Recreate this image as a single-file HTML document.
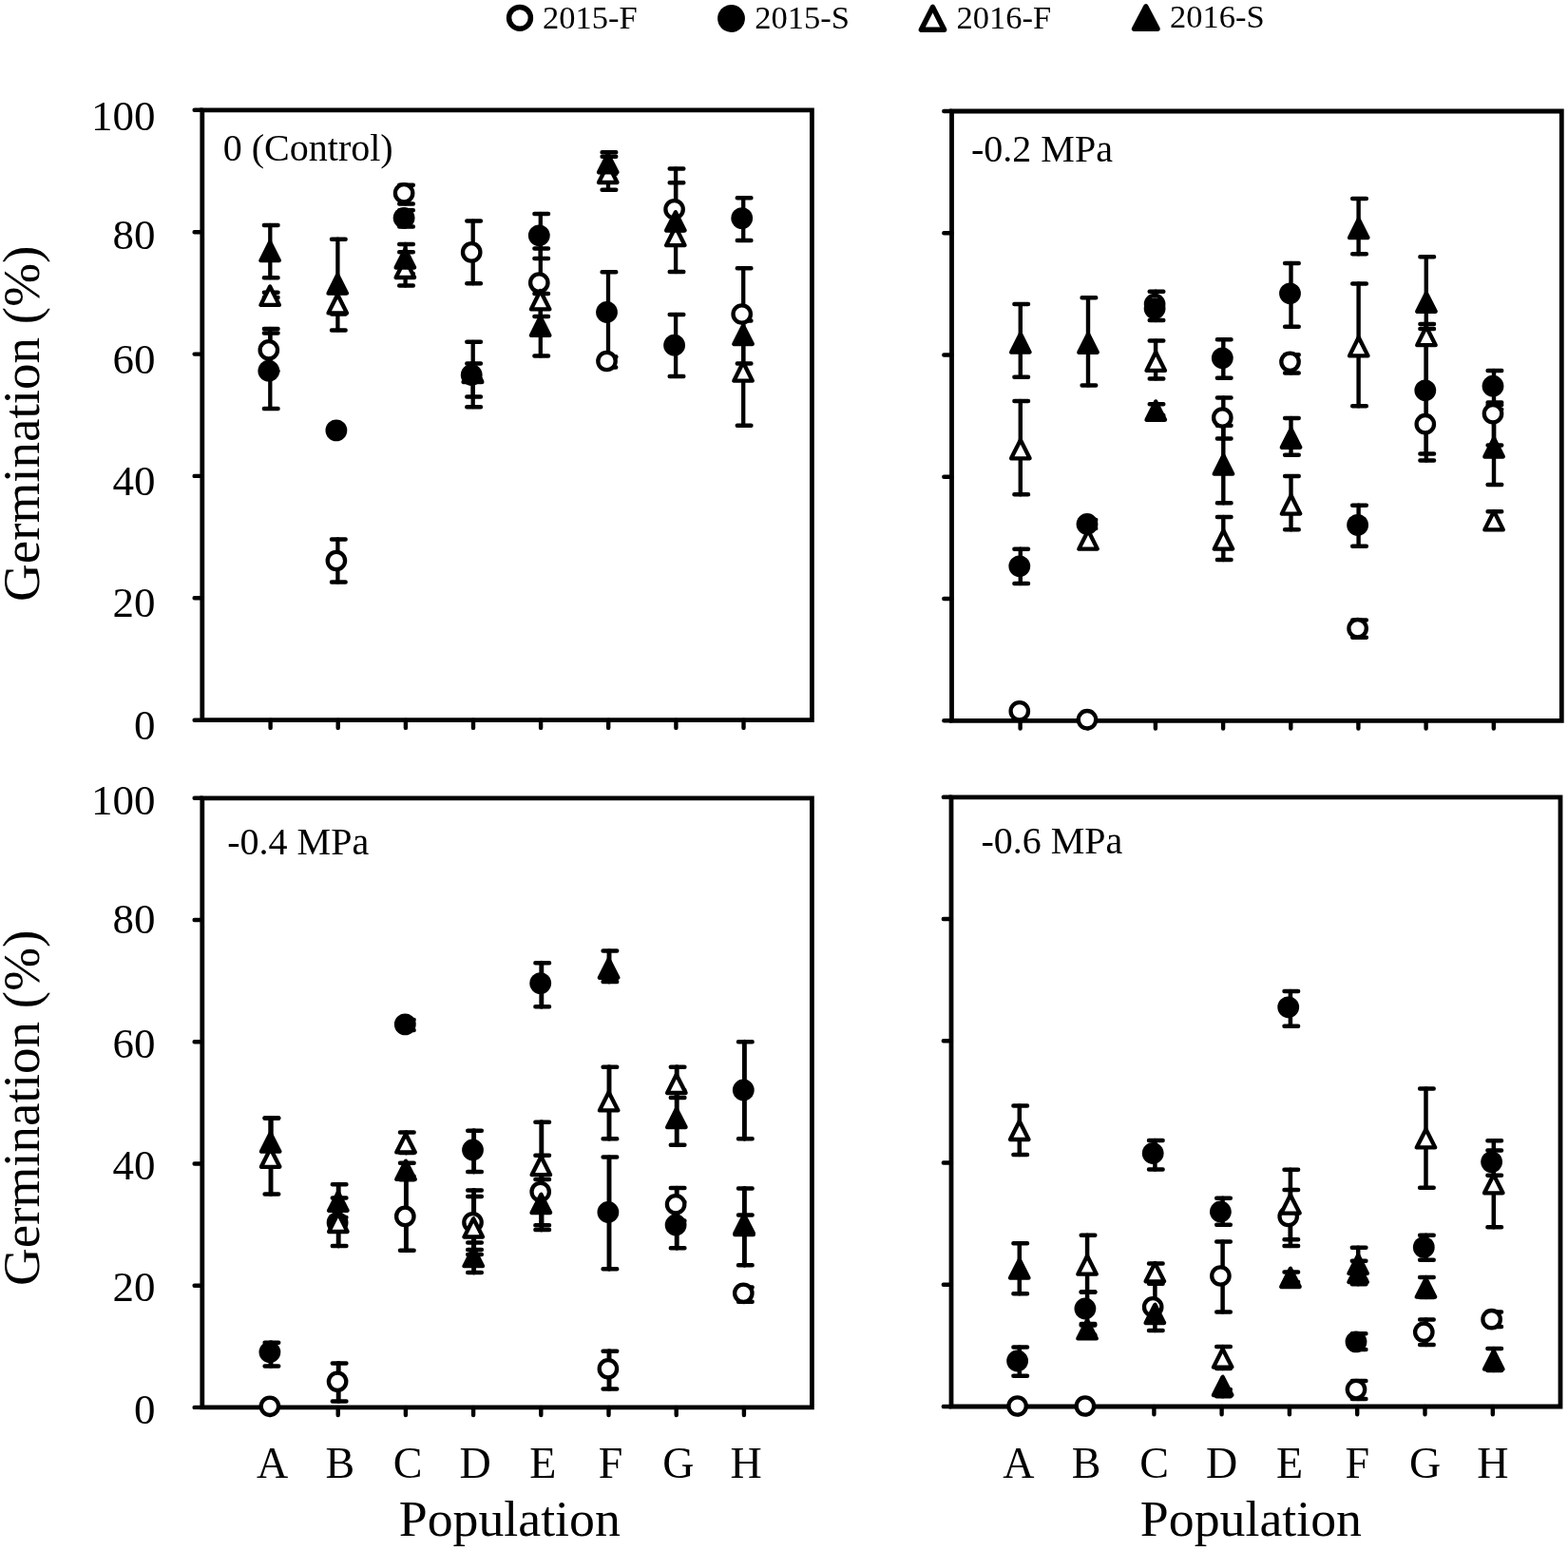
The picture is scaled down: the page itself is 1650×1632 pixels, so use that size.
<!DOCTYPE html>
<html lang="en"><head><meta charset="utf-8"><title>Germination by population</title>
<style>html,body{margin:0;padding:0;background:#fff}body{width:1650px;height:1632px;overflow:hidden}svg{display:block}text{font-family:'Liberation Serif', serif;fill:#000}</style>
</head><body>
<svg width="1650" height="1632" viewBox="0 0 1650 1632">
<rect width="1650" height="1632" fill="#fff"/>
<g id="legend" font-size="34.5">
<circle cx="547.0" cy="18.8" r="11.4" fill="#fff" stroke="#000" stroke-width="5.5"/>
<text x="571.0" y="30.3">2015-F</text>
<circle cx="769.5" cy="19.5" r="14.4" fill="#000"/>
<text x="794.2" y="30.3">2015-S</text>
<path d="M969.4 31.2L993.6 31.2L981.5 7.4Z" fill="#fff" stroke="#000" stroke-width="5.5" stroke-linejoin="round"/>
<text x="1006.4" y="29.8">2016-F</text>
<path d="M1193.6 30.2L1218.0 30.2L1205.8 7.0Z" fill="#000" stroke="#000" stroke-width="5.5" stroke-linejoin="round"/>
<text x="1231.0" y="28.8">2016-S</text>
</g>
<g id="panel1">
<g fill="none" stroke="#000" stroke-width="4.5" stroke-linecap="round"><path stroke-width="4.3" d="M284.3 346.0V390.6"/><path d="M277.9 346.0h14.6M277.9 390.6h14.6"/><path stroke-width="4.3" d="M284.3 350.5V429.9"/><path d="M277.9 350.5h14.6M277.9 429.9h14.6"/><path stroke-width="4.3" d="M284.3 237.0V292.2"/><path d="M277.9 237.0h14.6M277.9 292.2h14.6"/><path stroke-width="4.3" d="M284.3 307.8V313.1"/><path d="M277.9 307.8h14.6M277.9 313.1h14.6"/><path stroke-width="4.3" d="M355.4 567.4V612.5"/><path d="M349.0 567.4h14.6M349.0 612.5h14.6"/><path stroke-width="4.3" d="M355.4 251.7V347.4"/><path d="M349.0 251.7h14.6M349.0 347.4h14.6"/><path stroke-width="4.3" d="M355.4 308.0V330.5"/><path d="M349.0 308.0h14.6M349.0 330.5h14.6"/><path stroke-width="4.3" d="M426.6 194.8V214.4"/><path d="M420.2 194.8h14.6M420.2 214.4h14.6"/><path stroke-width="4.3" d="M426.6 221.3V238.4"/><path d="M420.2 221.3h14.6M420.2 238.4h14.6"/><path stroke-width="4.3" d="M426.6 256.9V287.9"/><path d="M420.2 256.9h14.6M420.2 287.9h14.6"/><path stroke-width="4.3" d="M426.6 265.2V300.6"/><path d="M420.2 265.2h14.6M420.2 300.6h14.6"/><path stroke-width="4.3" d="M497.7 232.6V298.3"/><path d="M491.3 232.6h14.6M491.3 298.3h14.6"/><path stroke-width="4.3" d="M497.7 359.8V428.2"/><path d="M491.3 359.8h14.6M491.3 428.2h14.6"/><path stroke-width="4.3" d="M497.7 382.6V417.5"/><path d="M491.3 382.6h14.6M491.3 417.5h14.6"/><path stroke-width="4.3" d="M568.8 225.0V271.9"/><path d="M562.4 225.0h14.6M562.4 271.9h14.6"/><path stroke-width="4.3" d="M568.8 261.4V333.1"/><path d="M562.4 261.4h14.6M562.4 333.1h14.6"/><path stroke-width="4.3" d="M568.8 309.0V374.5"/><path d="M562.4 309.0h14.6M562.4 374.5h14.6"/><path stroke-width="4.3" d="M640.0 160.2V182.8"/><path d="M633.6 160.2h14.6M633.6 182.8h14.6"/><path stroke-width="4.3" d="M640.0 164.8V199.8"/><path d="M633.6 164.8h14.6M633.6 199.8h14.6"/><path stroke-width="4.3" d="M640.0 286.2V375.4"/><path d="M633.6 286.2h14.6M633.6 375.4h14.6"/><path stroke-width="4.3" d="M640.0 375.4V386.4"/><path d="M633.6 375.4h14.6M633.6 386.4h14.6"/><path stroke-width="4.3" d="M711.1 177.5V286.0"/><path d="M704.7 177.5h14.6M704.7 286.0h14.6"/><path stroke-width="4.3" d="M711.1 192.2V242.3"/><path d="M704.7 192.2h14.6M704.7 242.3h14.6"/><path stroke-width="4.3" d="M711.1 331.0V396.0"/><path d="M704.7 331.0h14.6M704.7 396.0h14.6"/><path stroke-width="4.3" d="M782.2 208.2V252.9"/><path d="M775.8 208.2h14.6M775.8 252.9h14.6"/><path stroke-width="4.3" d="M782.2 282.3V382.5"/><path d="M775.8 282.3h14.6M775.8 382.5h14.6"/><path stroke-width="4.3" d="M782.2 337.5V447.8"/><path d="M775.8 337.5h14.6M775.8 447.8h14.6"/></g>
<g fill="none" stroke="#000" stroke-linecap="round">
<path stroke-width="4.8" stroke-linejoin="miter" d="M212.8 115.8H854.4V757.7H212.8Z"/>
<path stroke-width="4.4" d="M212.8 757.7H204.6M212.8 629.3H204.6M212.8 500.9H204.6M212.8 372.6H204.6M212.8 244.2H204.6M212.8 115.8H204.6M284.6 757.7V765.9M355.7 757.7V765.9M426.9 757.7V765.9M498.0 757.7V765.9M569.1 757.7V765.9M640.2 757.7V765.9M711.4 757.7V765.9M782.5 757.7V765.9"/>
</g>
<circle cx="282.8" cy="368.3" r="9.2" fill="#fff" stroke="#000" stroke-width="4.3"/><circle cx="353.9" cy="590.0" r="9.2" fill="#fff" stroke="#000" stroke-width="4.3"/><circle cx="425.1" cy="203.3" r="9.2" fill="#fff" stroke="#000" stroke-width="4.3"/><circle cx="496.2" cy="265.4" r="9.2" fill="#fff" stroke="#000" stroke-width="4.3"/><circle cx="567.3" cy="297.6" r="9.2" fill="#fff" stroke="#000" stroke-width="4.3"/><circle cx="638.5" cy="380.0" r="9.2" fill="#fff" stroke="#000" stroke-width="4.3"/><circle cx="709.6" cy="220.3" r="9.2" fill="#fff" stroke="#000" stroke-width="4.3"/><circle cx="780.7" cy="330.5" r="9.2" fill="#fff" stroke="#000" stroke-width="4.3"/><circle cx="282.8" cy="390.2" r="11.4" fill="#000"/><circle cx="353.9" cy="452.9" r="11.4" fill="#000"/><circle cx="425.1" cy="229.3" r="11.4" fill="#000"/><circle cx="496.2" cy="394.5" r="11.4" fill="#000"/><circle cx="567.3" cy="247.8" r="11.4" fill="#000"/><circle cx="638.5" cy="328.5" r="11.4" fill="#000"/><circle cx="709.6" cy="363.2" r="11.4" fill="#000"/><circle cx="780.7" cy="229.6" r="11.4" fill="#000"/><path d="M274.4 320.9L293.9 320.9L284.1 301.5Z" fill="#fff" stroke="#000" stroke-width="4.3" stroke-linejoin="round"/><path d="M345.5 329.4L365.0 329.4L355.2 310.0Z" fill="#fff" stroke="#000" stroke-width="4.3" stroke-linejoin="round"/><path d="M416.6 292.0L436.1 292.0L426.4 272.6Z" fill="#fff" stroke="#000" stroke-width="4.3" stroke-linejoin="round"/><path d="M487.7 402.2L507.2 402.2L497.5 382.8Z" fill="#fff" stroke="#000" stroke-width="4.3" stroke-linejoin="round"/><path d="M558.9 325.4L578.4 325.4L568.6 306.0Z" fill="#fff" stroke="#000" stroke-width="4.3" stroke-linejoin="round"/><path d="M630.0 192.0L649.5 192.0L639.8 172.7Z" fill="#fff" stroke="#000" stroke-width="4.3" stroke-linejoin="round"/><path d="M701.1 258.1L720.6 258.1L710.9 238.8Z" fill="#fff" stroke="#000" stroke-width="4.3" stroke-linejoin="round"/><path d="M772.3 400.7L791.8 400.7L782.0 381.3Z" fill="#fff" stroke="#000" stroke-width="4.3" stroke-linejoin="round"/><path d="M274.4 274.1L293.9 274.1L284.1 254.8Z" fill="#000" stroke="#000" stroke-width="4.3" stroke-linejoin="round"/><path d="M345.5 308.6L365.0 308.6L355.2 289.2Z" fill="#000" stroke="#000" stroke-width="4.3" stroke-linejoin="round"/><path d="M416.6 281.5L436.1 281.5L426.4 262.1Z" fill="#000" stroke="#000" stroke-width="4.3" stroke-linejoin="round"/><path d="M487.7 401.4L507.2 401.4L497.5 382.0Z" fill="#000" stroke="#000" stroke-width="4.3" stroke-linejoin="round"/><path d="M558.9 352.9L578.4 352.9L568.6 333.5Z" fill="#000" stroke="#000" stroke-width="4.3" stroke-linejoin="round"/><path d="M630.0 181.3L649.5 181.3L639.8 162.1Z" fill="#000" stroke="#000" stroke-width="4.3" stroke-linejoin="round"/><path d="M701.1 242.5L720.6 242.5L710.9 223.2Z" fill="#000" stroke="#000" stroke-width="4.3" stroke-linejoin="round"/><path d="M772.3 362.0L791.8 362.0L782.0 342.6Z" fill="#000" stroke="#000" stroke-width="4.3" stroke-linejoin="round"/>
<text x="234.8" y="169.0" font-size="40">0 (Control)</text>
<g font-size="45" text-anchor="end">
<text x="163.5" y="137.4">100</text>
<text x="163.5" y="261.6">80</text>
<text x="163.5" y="393.3">60</text>
<text x="163.5" y="520.5">40</text>
<text x="163.5" y="648.5">20</text>
<text x="163.5" y="777.5">0</text>
</g>
<text font-size="55" text-anchor="middle" transform="translate(40.5 445.8) rotate(-90)">Germination (%)</text>
</g>
<g id="panel2">
<g fill="none" stroke="#000" stroke-width="4.5" stroke-linecap="round"><path stroke-width="4.4" d="M1073.8 320.1V396.7"/><path d="M1067.4 320.1h14.6M1067.4 396.7h14.6"/><path stroke-width="4.4" d="M1073.8 421.9V520.2"/><path d="M1067.4 421.9h14.6M1067.4 520.2h14.6"/><path stroke-width="4.4" d="M1073.8 577.7V614.0"/><path d="M1067.4 577.7h14.6M1067.4 614.0h14.6"/><path stroke-width="4.4" d="M1145.0 313.3V405.4"/><path d="M1138.6 313.3h14.6M1138.6 405.4h14.6"/><path stroke-width="4.4" d="M1145.0 547.0V556.0"/><path d="M1138.6 547.0h14.6M1138.6 556.0h14.6"/><path stroke-width="4.4" d="M1216.1 306.7V337.1"/><path d="M1209.7 306.7h14.6M1209.7 337.1h14.6"/><path stroke-width="4.4" d="M1216.1 358.6V398.4"/><path d="M1209.7 358.6h14.6M1209.7 398.4h14.6"/><path stroke-width="4.4" d="M1216.1 425.3V437.0"/><path d="M1209.7 425.3h14.6M1209.7 437.0h14.6"/><path stroke-width="4.4" d="M1287.3 357.3V397.8"/><path d="M1280.9 357.3h14.6M1280.9 397.8h14.6"/><path stroke-width="4.4" d="M1287.3 418.4V461.6"/><path d="M1280.9 418.4h14.6M1280.9 461.6h14.6"/><path stroke-width="4.4" d="M1287.3 447.8V529.2"/><path d="M1280.9 447.8h14.6M1280.9 529.2h14.6"/><path stroke-width="4.4" d="M1287.3 543.9V589.0"/><path d="M1280.9 543.9h14.6M1280.9 589.0h14.6"/><path stroke-width="4.4" d="M1358.5 276.9V343.8"/><path d="M1352.1 276.9h14.6M1352.1 343.8h14.6"/><path stroke-width="4.4" d="M1358.5 373.3V392.4"/><path d="M1352.1 373.3h14.6M1352.1 392.4h14.6"/><path stroke-width="4.4" d="M1358.5 439.9V478.7"/><path d="M1352.1 439.9h14.6M1352.1 478.7h14.6"/><path stroke-width="4.4" d="M1358.5 501.1V557.3"/><path d="M1352.1 501.1h14.6M1352.1 557.3h14.6"/><path stroke-width="4.4" d="M1429.6 209.1V267.3"/><path d="M1423.2 209.1h14.6M1423.2 267.3h14.6"/><path stroke-width="4.4" d="M1429.6 298.4V427.3"/><path d="M1423.2 298.4h14.6M1423.2 427.3h14.6"/><path stroke-width="4.4" d="M1429.6 531.7V574.7"/><path d="M1423.2 531.7h14.6M1423.2 574.7h14.6"/><path stroke-width="4.4" d="M1429.6 652.5V670.7"/><path d="M1423.2 652.5h14.6M1423.2 670.7h14.6"/><path stroke-width="4.4" d="M1500.8 270.2V362.3"/><path d="M1494.4 270.2h14.6M1494.4 362.3h14.6"/><path stroke-width="4.4" d="M1500.8 341.0V484.6"/><path d="M1494.4 341.0h14.6M1494.4 484.6h14.6"/><path stroke-width="4.4" d="M1500.8 346.1V477.5"/><path d="M1494.4 346.1h14.6M1494.4 477.5h14.6"/><path stroke-width="4.4" d="M1572.0 390.0V423.5"/><path d="M1565.6 390.0h14.6M1565.6 423.5h14.6"/><path stroke-width="4.4" d="M1572.0 426.0V468.4"/><path d="M1565.6 426.0h14.6M1565.6 468.4h14.6"/><path stroke-width="4.4" d="M1572.0 430.7V509.9"/><path d="M1565.6 430.7h14.6M1565.6 509.9h14.6"/><path stroke-width="4.4" d="M1572.0 538.2V556.0"/><path d="M1565.6 538.2h14.6M1565.6 556.0h14.6"/></g>
<g fill="none" stroke="#000" stroke-linecap="round">
<path stroke-width="4.8" stroke-linejoin="miter" d="M1001.5 117.0H1643.3V758.3H1001.5Z"/>
<path stroke-width="4.4" d="M1001.5 758.3H993.3M1001.5 630.0H993.3M1001.5 501.8H993.3M1001.5 373.5H993.3M1001.5 245.3H993.3M1001.5 117.0H993.3M1073.6 758.3V766.5M1144.8 758.3V766.5M1215.9 758.3V766.5M1287.1 758.3V766.5M1358.3 758.3V766.5M1429.4 758.3V766.5M1500.6 758.3V766.5M1571.8 758.3V766.5"/>
</g>
<circle cx="1072.8" cy="748.3" r="9.2" fill="#fff" stroke="#000" stroke-width="4.3"/><circle cx="1144.0" cy="757.2" r="9.2" fill="#fff" stroke="#000" stroke-width="4.3"/><circle cx="1215.1" cy="320.1" r="9.2" fill="#fff" stroke="#000" stroke-width="4.3"/><circle cx="1286.3" cy="439.5" r="9.2" fill="#fff" stroke="#000" stroke-width="4.3"/><circle cx="1357.5" cy="380.8" r="9.2" fill="#fff" stroke="#000" stroke-width="4.3"/><circle cx="1428.6" cy="661.2" r="9.2" fill="#fff" stroke="#000" stroke-width="4.3"/><circle cx="1499.8" cy="446.2" r="9.2" fill="#fff" stroke="#000" stroke-width="4.3"/><circle cx="1571.0" cy="435.3" r="9.2" fill="#fff" stroke="#000" stroke-width="4.3"/><circle cx="1072.8" cy="595.8" r="11.4" fill="#000"/><circle cx="1144.0" cy="551.5" r="11.4" fill="#000"/><circle cx="1215.1" cy="324.6" r="11.4" fill="#000"/><circle cx="1286.3" cy="376.8" r="11.4" fill="#000"/><circle cx="1357.5" cy="308.8" r="11.4" fill="#000"/><circle cx="1428.6" cy="552.4" r="11.4" fill="#000"/><circle cx="1499.8" cy="410.8" r="11.4" fill="#000"/><circle cx="1571.0" cy="406.2" r="11.4" fill="#000"/><path d="M1064.1 482.3L1083.6 482.3L1073.9 462.9Z" fill="#fff" stroke="#000" stroke-width="4.3" stroke-linejoin="round"/><path d="M1135.3 577.6L1154.8 577.6L1145.1 558.3Z" fill="#fff" stroke="#000" stroke-width="4.3" stroke-linejoin="round"/><path d="M1206.5 389.9L1226.0 389.9L1216.2 370.5Z" fill="#fff" stroke="#000" stroke-width="4.3" stroke-linejoin="round"/><path d="M1277.7 577.6L1297.2 577.6L1287.4 558.3Z" fill="#fff" stroke="#000" stroke-width="4.3" stroke-linejoin="round"/><path d="M1348.8 540.6L1368.3 540.6L1358.6 521.3Z" fill="#fff" stroke="#000" stroke-width="4.3" stroke-linejoin="round"/><path d="M1420.0 374.4L1439.5 374.4L1429.7 355.0Z" fill="#fff" stroke="#000" stroke-width="4.3" stroke-linejoin="round"/><path d="M1491.2 363.2L1510.7 363.2L1500.9 343.8Z" fill="#fff" stroke="#000" stroke-width="4.3" stroke-linejoin="round"/><path d="M1562.3 557.4L1581.8 557.4L1572.1 538.0Z" fill="#fff" stroke="#000" stroke-width="4.3" stroke-linejoin="round"/><path d="M1064.1 370.6L1083.6 370.6L1073.9 351.2Z" fill="#000" stroke="#000" stroke-width="4.3" stroke-linejoin="round"/><path d="M1135.3 370.8L1154.8 370.8L1145.1 351.4Z" fill="#000" stroke="#000" stroke-width="4.3" stroke-linejoin="round"/><path d="M1206.5 441.8L1226.0 441.8L1216.2 422.4Z" fill="#000" stroke="#000" stroke-width="4.3" stroke-linejoin="round"/><path d="M1277.7 498.7L1297.2 498.7L1287.4 479.3Z" fill="#000" stroke="#000" stroke-width="4.3" stroke-linejoin="round"/><path d="M1348.8 470.8L1368.3 470.8L1358.6 451.4Z" fill="#000" stroke="#000" stroke-width="4.3" stroke-linejoin="round"/><path d="M1420.0 250.1L1439.5 250.1L1429.7 230.8Z" fill="#000" stroke="#000" stroke-width="4.3" stroke-linejoin="round"/><path d="M1491.2 327.8L1510.7 327.8L1500.9 308.4Z" fill="#000" stroke="#000" stroke-width="4.3" stroke-linejoin="round"/><path d="M1562.3 480.5L1581.8 480.5L1572.1 461.1Z" fill="#000" stroke="#000" stroke-width="4.3" stroke-linejoin="round"/>
<text x="1022.0" y="170.3" font-size="40">-0.2 MPa</text>
</g>
<g id="panel3">
<g fill="none" stroke="#000" stroke-width="4.5" stroke-linecap="round"><path stroke-width="4.9" d="M285.0 1176.6V1226.8"/><path d="M278.6 1176.6h14.6M278.6 1226.8h14.6"/><path stroke-width="4.9" d="M285.0 1176.6V1256.6"/><path d="M278.6 1176.6h14.6M278.6 1256.6h14.6"/><path stroke-width="4.9" d="M285.0 1412.8V1437.4"/><path d="M278.6 1412.8h14.6M278.6 1437.4h14.6"/><path stroke-width="4.9" d="M356.2 1246.3V1281.0"/><path d="M349.8 1246.3h14.6M349.8 1281.0h14.6"/><path stroke-width="4.9" d="M356.2 1260.5V1311.0"/><path d="M349.8 1260.5h14.6M349.8 1311.0h14.6"/><path stroke-width="4.9" d="M356.2 1434.5V1474.4"/><path d="M349.8 1434.5h14.6M349.8 1474.4h14.6"/><path stroke-width="4.9" d="M427.4 1073.0V1084.0"/><path d="M421.0 1073.0h14.6M421.0 1084.0h14.6"/><path stroke-width="4.9" d="M427.4 1191.6V1213.0"/><path d="M421.0 1191.6h14.6M421.0 1213.0h14.6"/><path stroke-width="4.9" d="M427.4 1223.8V1237.8"/><path d="M421.0 1223.8h14.6M421.0 1237.8h14.6"/><path stroke-width="4.9" d="M427.4 1241.3V1315.7"/><path d="M421.0 1241.3h14.6M421.0 1315.7h14.6"/><path stroke-width="4.9" d="M498.6 1189.8V1233.0"/><path d="M492.2 1189.8h14.6M492.2 1233.0h14.6"/><path stroke-width="4.9" d="M498.6 1252.5V1320.0"/><path d="M492.2 1252.5h14.6M492.2 1320.0h14.6"/><path stroke-width="4.9" d="M498.6 1258.9V1315.1"/><path d="M492.2 1258.9h14.6M492.2 1315.1h14.6"/><path stroke-width="4.9" d="M498.6 1307.4V1339.1"/><path d="M492.2 1307.4h14.6M492.2 1339.1h14.6"/><path stroke-width="4.9" d="M569.8 1013.3V1059.2"/><path d="M563.4 1013.3h14.6M563.4 1059.2h14.6"/><path stroke-width="4.9" d="M569.8 1180.8V1274.0"/><path d="M563.4 1180.8h14.6M563.4 1274.0h14.6"/><path stroke-width="4.9" d="M569.8 1215.7V1289.2"/><path d="M563.4 1215.7h14.6M563.4 1289.2h14.6"/><path stroke-width="4.9" d="M569.8 1240.9V1294.1"/><path d="M563.4 1240.9h14.6M563.4 1294.1h14.6"/><path stroke-width="4.9" d="M641.0 1000.6V1033.0"/><path d="M634.6 1000.6h14.6M634.6 1033.0h14.6"/><path stroke-width="4.9" d="M641.0 1122.7V1198.2"/><path d="M634.6 1122.7h14.6M634.6 1198.2h14.6"/><path stroke-width="4.9" d="M641.0 1217.6V1335.2"/><path d="M634.6 1217.6h14.6M634.6 1335.2h14.6"/><path stroke-width="4.9" d="M641.0 1421.7V1461.6"/><path d="M634.6 1421.7h14.6M634.6 1461.6h14.6"/><path stroke-width="4.9" d="M712.2 1122.8V1154.9"/><path d="M705.8 1122.8h14.6M705.8 1154.9h14.6"/><path stroke-width="4.9" d="M712.2 1147.2V1204.8"/><path d="M705.8 1147.2h14.6M705.8 1204.8h14.6"/><path stroke-width="4.9" d="M712.2 1250.1V1284.5"/><path d="M705.8 1250.1h14.6M705.8 1284.5h14.6"/><path stroke-width="4.9" d="M712.2 1264.8V1313.2"/><path d="M705.8 1264.8h14.6M705.8 1313.2h14.6"/><path stroke-width="4.9" d="M783.4 1096.2V1198.2"/><path d="M777.0 1096.2h14.6M777.0 1198.2h14.6"/><path stroke-width="4.9" d="M783.4 1250.5V1331.2"/><path d="M777.0 1250.5h14.6M777.0 1331.2h14.6"/><path stroke-width="4.9" d="M783.4 1278.6V1298.0"/><path d="M777.0 1278.6h14.6M777.0 1298.0h14.6"/><path stroke-width="4.9" d="M783.4 1354.6V1369.8"/><path d="M777.0 1354.6h14.6M777.0 1369.8h14.6"/></g>
<g fill="none" stroke="#000" stroke-linecap="round">
<path stroke-width="4.8" stroke-linejoin="miter" d="M212.8 839.8H854.4V1480.9H212.8Z"/>
<path stroke-width="4.4" d="M212.8 1480.9H204.6M212.8 1352.7H204.6M212.8 1224.5H204.6M212.8 1096.2H204.6M212.8 968.0H204.6M212.8 839.8H204.6M284.5 1480.9V1489.1M355.7 1480.9V1489.1M426.9 1480.9V1489.1M498.1 1480.9V1489.1M569.3 1480.9V1489.1M640.5 1480.9V1489.1M711.7 1480.9V1489.1M782.9 1480.9V1489.1"/>
</g>
<circle cx="283.9" cy="1479.8" r="9.2" fill="#fff" stroke="#000" stroke-width="4.3"/><circle cx="355.1" cy="1453.8" r="9.2" fill="#fff" stroke="#000" stroke-width="4.3"/><circle cx="426.3" cy="1279.9" r="9.2" fill="#fff" stroke="#000" stroke-width="4.3"/><circle cx="497.5" cy="1286.3" r="9.2" fill="#fff" stroke="#000" stroke-width="4.3"/><circle cx="568.7" cy="1254.0" r="9.2" fill="#fff" stroke="#000" stroke-width="4.3"/><circle cx="639.9" cy="1440.3" r="9.2" fill="#fff" stroke="#000" stroke-width="4.3"/><circle cx="711.1" cy="1267.3" r="9.2" fill="#fff" stroke="#000" stroke-width="4.3"/><circle cx="782.3" cy="1360.8" r="9.2" fill="#fff" stroke="#000" stroke-width="4.3"/><circle cx="283.9" cy="1422.8" r="11.4" fill="#000"/><circle cx="355.1" cy="1286.4" r="11.4" fill="#000"/><circle cx="426.3" cy="1077.9" r="11.4" fill="#000"/><circle cx="497.5" cy="1210.0" r="11.4" fill="#000"/><circle cx="568.7" cy="1034.6" r="11.4" fill="#000"/><circle cx="639.9" cy="1275.5" r="11.4" fill="#000"/><circle cx="711.1" cy="1289.0" r="11.4" fill="#000"/><circle cx="782.3" cy="1147.0" r="11.4" fill="#000"/><path d="M274.9 1227.8L294.4 1227.8L284.6 1208.6Z" fill="#fff" stroke="#000" stroke-width="4.3" stroke-linejoin="round"/><path d="M346.1 1296.0L365.6 1296.0L355.8 1276.8Z" fill="#fff" stroke="#000" stroke-width="4.3" stroke-linejoin="round"/><path d="M417.2 1212.4L436.8 1212.4L427.0 1193.2Z" fill="#fff" stroke="#000" stroke-width="4.3" stroke-linejoin="round"/><path d="M488.5 1301.5L508.0 1301.5L498.2 1282.3Z" fill="#fff" stroke="#000" stroke-width="4.3" stroke-linejoin="round"/><path d="M559.6 1236.2L579.1 1236.2L569.4 1217.0Z" fill="#fff" stroke="#000" stroke-width="4.3" stroke-linejoin="round"/><path d="M630.9 1168.4L650.4 1168.4L640.6 1149.2Z" fill="#fff" stroke="#000" stroke-width="4.3" stroke-linejoin="round"/><path d="M702.1 1150.0L721.6 1150.0L711.8 1130.8Z" fill="#fff" stroke="#000" stroke-width="4.3" stroke-linejoin="round"/><path d="M773.3 1297.6L792.8 1297.6L783.0 1278.4Z" fill="#fff" stroke="#000" stroke-width="4.3" stroke-linejoin="round"/><path d="M274.9 1211.7L294.4 1211.7L284.6 1192.5Z" fill="#000" stroke="#000" stroke-width="4.3" stroke-linejoin="round"/><path d="M346.1 1273.8L365.6 1273.8L355.8 1254.6Z" fill="#000" stroke="#000" stroke-width="4.3" stroke-linejoin="round"/><path d="M417.2 1240.9L436.8 1240.9L427.0 1221.7Z" fill="#000" stroke="#000" stroke-width="4.3" stroke-linejoin="round"/><path d="M488.5 1332.2L508.0 1332.2L498.2 1313.0Z" fill="#000" stroke="#000" stroke-width="4.3" stroke-linejoin="round"/><path d="M559.6 1276.0L579.1 1276.0L569.4 1256.8Z" fill="#000" stroke="#000" stroke-width="4.3" stroke-linejoin="round"/><path d="M630.9 1028.8L650.4 1028.8L640.6 1009.5Z" fill="#000" stroke="#000" stroke-width="4.3" stroke-linejoin="round"/><path d="M702.1 1186.1L721.6 1186.1L711.8 1166.9Z" fill="#000" stroke="#000" stroke-width="4.3" stroke-linejoin="round"/><path d="M773.3 1299.2L792.8 1299.2L783.0 1280.0Z" fill="#000" stroke="#000" stroke-width="4.3" stroke-linejoin="round"/>
<text x="239.3" y="898.5" font-size="40">-0.4 MPa</text>
<g font-size="45" text-anchor="end">
<text x="163.5" y="857.4">100</text>
<text x="163.5" y="981.6">80</text>
<text x="163.5" y="1113.3">60</text>
<text x="163.5" y="1240.5">40</text>
<text x="163.5" y="1368.5">20</text>
<text x="163.5" y="1497.5">0</text>
</g>
<text font-size="55" text-anchor="middle" transform="translate(40.5 1165.8) rotate(-90)">Germination (%)</text>
<g font-size="46" text-anchor="middle">
<text x="286.6" y="1555.4">A</text>
<text x="357.8" y="1555.4">B</text>
<text x="429.0" y="1555.4">C</text>
<text x="500.2" y="1555.4">D</text>
<text x="571.4" y="1555.4">E</text>
<text x="642.6" y="1555.4">F</text>
<text x="713.8" y="1555.4">G</text>
<text x="785.0" y="1555.4">H</text>
</g>
<text x="536.3" y="1616.2" font-size="53.8" text-anchor="middle">Population</text>
</g>
<g id="panel4">
<g fill="none" stroke="#000" stroke-width="4.5" stroke-linecap="round"><path stroke-width="4.5" d="M1072.8 1163.5V1215.1"/><path d="M1066.4 1163.5h14.6M1066.4 1215.1h14.6"/><path stroke-width="4.5" d="M1072.8 1308.2V1361.2"/><path d="M1066.4 1308.2h14.6M1066.4 1361.2h14.6"/><path stroke-width="4.5" d="M1072.8 1417.5V1447.7"/><path d="M1066.4 1417.5h14.6M1066.4 1447.7h14.6"/><path stroke-width="4.5" d="M1144.1 1299.8V1359.6"/><path d="M1137.7 1299.8h14.6M1137.7 1359.6h14.6"/><path stroke-width="4.5" d="M1144.1 1359.6V1394.6"/><path d="M1137.7 1359.6h14.6M1137.7 1394.6h14.6"/><path stroke-width="4.5" d="M1144.1 1393.0V1404.5"/><path d="M1137.7 1393.0h14.6M1137.7 1404.5h14.6"/><path stroke-width="4.5" d="M1215.4 1200.0V1230.4"/><path d="M1209.0 1200.0h14.6M1209.0 1230.4h14.6"/><path stroke-width="4.5" d="M1215.4 1329.6V1347.0"/><path d="M1209.0 1329.6h14.6M1209.0 1347.0h14.6"/><path stroke-width="4.5" d="M1215.4 1350.7V1399.9"/><path d="M1209.0 1350.7h14.6M1209.0 1399.9h14.6"/><path stroke-width="4.5" d="M1286.6 1260.8V1288.8"/><path d="M1280.2 1260.8h14.6M1280.2 1288.8h14.6"/><path stroke-width="4.5" d="M1286.6 1306.4V1380.4"/><path d="M1280.2 1306.4h14.6M1280.2 1380.4h14.6"/><path stroke-width="4.5" d="M1286.6 1417.0V1440.0"/><path d="M1280.2 1417.0h14.6M1280.2 1440.0h14.6"/><path stroke-width="4.5" d="M1286.6 1462.0V1469.3"/><path d="M1280.2 1462.0h14.6M1280.2 1469.3h14.6"/><path stroke-width="4.5" d="M1357.9 1043.1V1079.8"/><path d="M1351.5 1043.1h14.6M1351.5 1079.8h14.6"/><path stroke-width="4.5" d="M1357.9 1230.8V1304.2"/><path d="M1351.5 1230.8h14.6M1351.5 1304.2h14.6"/><path stroke-width="4.5" d="M1357.9 1252.0V1311.0"/><path d="M1351.5 1252.0h14.6M1351.5 1311.0h14.6"/><path stroke-width="4.5" d="M1357.9 1338.4V1349.0"/><path d="M1351.5 1338.4h14.6M1351.5 1349.0h14.6"/><path stroke-width="4.5" d="M1429.2 1312.7V1346.7"/><path d="M1422.8 1312.7h14.6M1422.8 1346.7h14.6"/><path stroke-width="4.5" d="M1429.2 1326.8V1351.2"/><path d="M1422.8 1326.8h14.6M1422.8 1351.2h14.6"/><path stroke-width="4.5" d="M1429.2 1403.3V1419.9"/><path d="M1422.8 1403.3h14.6M1422.8 1419.9h14.6"/><path stroke-width="4.5" d="M1429.2 1452.9V1471.9"/><path d="M1422.8 1452.9h14.6M1422.8 1471.9h14.6"/><path stroke-width="4.5" d="M1500.5 1145.4V1249.8"/><path d="M1494.1 1145.4h14.6M1494.1 1249.8h14.6"/><path stroke-width="4.5" d="M1500.5 1299.8V1325.8"/><path d="M1494.1 1299.8h14.6M1494.1 1325.8h14.6"/><path stroke-width="4.5" d="M1500.5 1344.0V1365.0"/><path d="M1494.1 1344.0h14.6M1494.1 1365.0h14.6"/><path stroke-width="4.5" d="M1500.5 1388.5V1415.0"/><path d="M1494.1 1388.5h14.6M1494.1 1415.0h14.6"/><path stroke-width="4.5" d="M1571.8 1200.2V1291.3"/><path d="M1565.4 1200.2h14.6M1565.4 1291.3h14.6"/><path stroke-width="4.5" d="M1571.8 1210.6V1236.7"/><path d="M1565.4 1210.6h14.6M1565.4 1236.7h14.6"/><path stroke-width="4.5" d="M1571.8 1380.4V1396.0"/><path d="M1565.4 1380.4h14.6M1565.4 1396.0h14.6"/><path stroke-width="4.5" d="M1571.8 1419.0V1442.0"/><path d="M1565.4 1419.0h14.6M1565.4 1442.0h14.6"/></g>
<g fill="none" stroke="#000" stroke-linecap="round">
<path stroke-width="4.8" stroke-linejoin="miter" d="M1001.0 838.8H1642.0V1480.0H1001.0Z"/>
<path stroke-width="4.4" d="M1001.0 1480.0H992.8M1001.0 1351.8H992.8M1001.0 1223.5H992.8M1001.0 1095.3H992.8M1001.0 967.0H992.8M1001.0 838.8H992.8M1071.8 1480.0V1488.2M1143.1 1480.0V1488.2M1214.4 1480.0V1488.2M1285.6 1480.0V1488.2M1356.9 1480.0V1488.2M1428.2 1480.0V1488.2M1499.5 1480.0V1488.2M1570.8 1480.0V1488.2"/>
</g>
<circle cx="1070.6" cy="1479.5" r="9.2" fill="#fff" stroke="#000" stroke-width="4.3"/><circle cx="1141.9" cy="1479.5" r="9.2" fill="#fff" stroke="#000" stroke-width="4.3"/><circle cx="1213.2" cy="1375.3" r="9.2" fill="#fff" stroke="#000" stroke-width="4.3"/><circle cx="1284.4" cy="1342.5" r="9.2" fill="#fff" stroke="#000" stroke-width="4.3"/><circle cx="1355.7" cy="1280.0" r="9.2" fill="#fff" stroke="#000" stroke-width="4.3"/><circle cx="1427.0" cy="1462.1" r="9.2" fill="#fff" stroke="#000" stroke-width="4.3"/><circle cx="1498.3" cy="1401.8" r="9.2" fill="#fff" stroke="#000" stroke-width="4.3"/><circle cx="1569.6" cy="1388.2" r="9.2" fill="#fff" stroke="#000" stroke-width="4.3"/><circle cx="1070.6" cy="1432.0" r="11.4" fill="#000"/><circle cx="1141.9" cy="1377.0" r="11.4" fill="#000"/><circle cx="1213.2" cy="1213.5" r="11.4" fill="#000"/><circle cx="1284.4" cy="1275.0" r="11.4" fill="#000"/><circle cx="1355.7" cy="1059.8" r="11.4" fill="#000"/><circle cx="1427.0" cy="1411.9" r="11.4" fill="#000"/><circle cx="1498.3" cy="1312.4" r="11.4" fill="#000"/><circle cx="1569.6" cy="1222.6" r="11.4" fill="#000"/><path d="M1063.0 1199.0L1082.5 1199.0L1072.8 1179.8Z" fill="#fff" stroke="#000" stroke-width="4.3" stroke-linejoin="round"/><path d="M1134.3 1340.7L1153.8 1340.7L1144.1 1321.5Z" fill="#fff" stroke="#000" stroke-width="4.3" stroke-linejoin="round"/><path d="M1205.6 1348.3L1225.1 1348.3L1215.4 1329.1Z" fill="#fff" stroke="#000" stroke-width="4.3" stroke-linejoin="round"/><path d="M1276.9 1438.6L1296.4 1438.6L1286.6 1419.4Z" fill="#fff" stroke="#000" stroke-width="4.3" stroke-linejoin="round"/><path d="M1348.2 1276.6L1367.7 1276.6L1357.9 1257.4Z" fill="#fff" stroke="#000" stroke-width="4.3" stroke-linejoin="round"/><path d="M1490.7 1207.4L1510.2 1207.4L1500.5 1188.2Z" fill="#fff" stroke="#000" stroke-width="4.3" stroke-linejoin="round"/><path d="M1562.0 1255.3L1581.5 1255.3L1571.8 1236.1Z" fill="#fff" stroke="#000" stroke-width="4.3" stroke-linejoin="round"/><path d="M1419.4 1339.9L1438.9 1339.9L1429.2 1320.7Z" fill="#000" stroke="#000" stroke-width="4.3" stroke-linejoin="round"/><path d="M1063.0 1344.7L1082.5 1344.7L1072.8 1325.5Z" fill="#000" stroke="#000" stroke-width="4.3" stroke-linejoin="round"/><path d="M1134.3 1408.4L1153.8 1408.4L1144.1 1389.2Z" fill="#000" stroke="#000" stroke-width="4.3" stroke-linejoin="round"/><path d="M1205.6 1392.0L1225.1 1392.0L1215.4 1372.8Z" fill="#000" stroke="#000" stroke-width="4.3" stroke-linejoin="round"/><path d="M1276.9 1468.0L1296.4 1468.0L1286.6 1448.8Z" fill="#000" stroke="#000" stroke-width="4.3" stroke-linejoin="round"/><path d="M1348.2 1354.0L1367.7 1354.0L1357.9 1334.8Z" fill="#000" stroke="#000" stroke-width="4.3" stroke-linejoin="round"/><path d="M1419.4 1349.1L1438.9 1349.1L1429.2 1329.9Z" fill="#000" stroke="#000" stroke-width="4.3" stroke-linejoin="round"/><path d="M1490.7 1364.7L1510.2 1364.7L1500.5 1345.5Z" fill="#000" stroke="#000" stroke-width="4.3" stroke-linejoin="round"/><path d="M1562.0 1440.7L1581.5 1440.7L1571.8 1421.5Z" fill="#000" stroke="#000" stroke-width="4.3" stroke-linejoin="round"/>
<text x="1032.4" y="898.4" font-size="40">-0.6 MPa</text>
<g font-size="46" text-anchor="middle">
<text x="1071.9" y="1555.4">A</text>
<text x="1143.2" y="1555.4">B</text>
<text x="1214.5" y="1555.4">C</text>
<text x="1285.7" y="1555.4">D</text>
<text x="1357.0" y="1555.4">E</text>
<text x="1428.3" y="1555.4">F</text>
<text x="1499.6" y="1555.4">G</text>
<text x="1570.9" y="1555.4">H</text>
</g>
<text x="1316.4" y="1616.2" font-size="53.8" text-anchor="middle">Population</text>
</g>
</svg></body></html>
